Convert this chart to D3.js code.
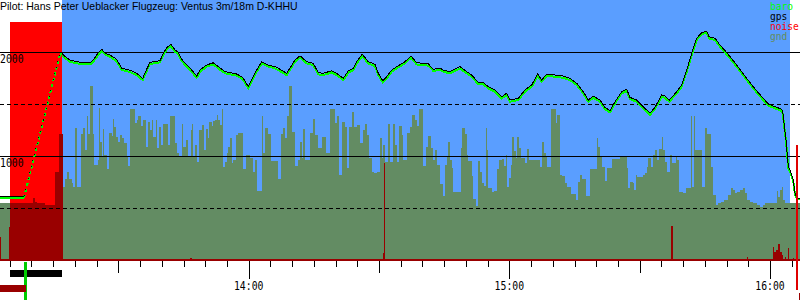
<!DOCTYPE html>
<html>
<head>
<meta charset="utf-8">
<script src="https://cdn.jsdelivr.net/npm/d3@7"></script>
<style>
    body { margin: 0; background: #fff; }
    svg { display: block; }
    .mono { font-family: "DejaVu Sans Mono", monospace; font-size: 9.8px; }
    .legend { font-family: "DejaVu Sans Mono", monospace; font-size: 9.6px; }
    .title { font-family: "Liberation Sans", Arial, sans-serif; font-size: 10.5px; }
</style>
</head>
<body>
<svg id="chart" width="800" height="300"></svg>
<script>
// Flight barogram - times in minutes after 13:00, altitudes in metres

const titleText = 'Pilot: Hans Peter Ueblacker Flugzeug: Ventus 3m/18m D-KHHU';

// flight trace (gps + baro share the same time stamps)
const trackMin = [
    2.75, 7.35, 8.27, 16.56, 17.02, 17.32, 18.86, 21.17, 23.47, 24.23,
    25.38, 26.16, 26.92, 28.07, 29.61, 30.77, 31.92, 33.07, 34.22, 35.6,
    36.52, 37.28, 39.58, 40.34, 41.12, 42.11, 43.03, 43.8, 44.58, 45.73,
    46.88, 48.03, 48.79, 50.33, 51.85, 53.0, 54.55, 55.7, 57.24, 58.62,
    59.91, 61.84, 62.99, 64.51, 66.06, 66.82, 68.75, 70.66, 71.81, 73.35,
    74.87, 76.02, 77.18, 79.11, 80.26, 81.78, 82.93, 84.08, 84.86, 86.15,
    87.53, 89.08, 89.84, 90.85, 91.77, 92.92, 94.44, 95.98, 97.36, 98.68,
    100.2, 101.35, 102.5, 104.04, 104.8, 106.34, 108.64, 110.18, 111.33, 112.86,
    114.01, 115.16, 116.7, 118.24, 119.39, 120.15, 122.06, 123.6, 125.15, 126.53,
    127.45, 128.6, 130.51, 132.42, 133.96, 135.51, 137.03, 138.18, 139.33, 140.87,
    142.02, 143.17, 144.32, 145.86, 147.02, 147.78, 149.32, 150.47, 152.38, 153.53,
    155.07, 155.83, 156.82, 158.53, 159.68, 160.83, 161.98, 163.13, 164.28, 165.44,
    165.96, 167.35, 168.5, 169.65, 170.8, 172.34, 173.49, 174.64, 176.16, 177.31,
    178.47, 179.62, 181.55, 182.7, 182.93, 183.23, 183.69, 184.22, 184.61, 185.37,
    185.76, 186.15, 186.91
];
const gpsAlt = [
    606, 606, 615, 1990, 1995, 1971, 1923, 1901, 1897, 1923,
    1993, 2026, 1988, 1971, 1930, 1843, 1834, 1817, 1795, 1747,
    1834, 1901, 1916, 1988, 2041, 2074, 2019, 1997, 1930, 1875,
    1827, 1769, 1827, 1875, 1897, 1859, 1811, 1801, 1788, 1757,
    1666, 1827, 1907, 1875, 1859, 1843, 1795, 1923, 1964, 1907,
    1891, 1801, 1795, 1820, 1795, 1747, 1820, 1843, 1907, 1978,
    1907, 1882, 1795, 1724, 1763, 1827, 1868, 1907, 1962, 1897,
    1891, 1885, 1834, 1845, 1827, 1811, 1859, 1811, 1779, 1705,
    1705, 1667, 1635, 1570, 1603, 1538, 1555, 1635, 1683, 1788,
    1731, 1788, 1779, 1769, 1747, 1699, 1618, 1538, 1577, 1538,
    1468, 1436, 1522, 1618, 1641, 1563, 1538, 1490, 1411, 1468,
    1587, 1577, 1538, 1618, 1683, 1827, 1987, 2132, 2186, 2202,
    2147, 2132, 2067, 2013, 1955, 1875, 1811, 1747, 1666, 1609,
    1555, 1500, 1468, 1449, 1426, 1314, 1154, 897, 865, 769,
    641, 593, 593
];
const baroAlt = [
    593, 593, 600, 1975, 1985, 1955, 1905, 1885, 1880, 1905,
    1975, 2010, 1975, 1955, 1912, 1825, 1818, 1800, 1778, 1730,
    1818, 1885, 1900, 1970, 2025, 2058, 2002, 1980, 1913, 1858,
    1810, 1752, 1810, 1860, 1882, 1842, 1795, 1785, 1772, 1740,
    1650, 1810, 1890, 1860, 1842, 1826, 1778, 1906, 1948, 1890,
    1875, 1785, 1778, 1803, 1778, 1730, 1803, 1826, 1890, 1962,
    1890, 1865, 1778, 1708, 1746, 1810, 1852, 1890, 1945, 1880,
    1875, 1868, 1818, 1828, 1810, 1795, 1842, 1795, 1762, 1690,
    1688, 1650, 1618, 1554, 1586, 1522, 1538, 1618, 1666, 1772,
    1714, 1771, 1762, 1752, 1730, 1682, 1602, 1522, 1560, 1522,
    1452, 1420, 1506, 1602, 1625, 1546, 1522, 1474, 1395, 1452,
    1570, 1560, 1522, 1602, 1666, 1810, 1970, 2115, 2170, 2186,
    2130, 2115, 2050, 1996, 1938, 1858, 1795, 1730, 1650, 1592,
    1538, 1484, 1452, 1432, 1412, 1300, 1140, 885, 852, 756,
    630, 590, 590
];
// engine climb part of the trace (drawn dotted)
const climbMin = [8.27, 16.56];

// terrain under the glider (step series)
const gndMin = [
    2.75, 5.05, 17.32, 17.71, 18.24, 18.7, 19.25, 19.62, 20.0, 20.41,
    21.33, 21.93, 22.32, 22.71, 23.08, 23.47, 24.09, 24.39, 25.38, 25.61,
    25.84, 26.16, 26.39, 26.69, 27.31, 27.84, 28.46, 28.69, 28.99, 29.38,
    29.98, 30.37, 30.77, 31.3, 31.92, 32.29, 32.68, 33.83, 34.22, 34.59,
    35.14, 35.6, 36.36, 36.89, 37.28, 37.67, 38.04, 38.66, 38.96, 39.35,
    39.74, 40.2, 41.49, 41.88, 43.03, 43.56, 43.96, 44.58, 44.95, 45.57,
    46.1, 46.65, 46.88, 47.25, 47.64, 48.17, 48.63, 49.18, 49.71, 50.17,
    50.56, 50.93, 51.48, 51.85, 52.24, 52.63, 53.0, 53.39, 53.79, 54.15,
    54.55, 54.94, 55.31, 55.7, 56.09, 56.46, 57.08, 57.61, 58.0, 58.62,
    59.38, 60.3, 60.92, 61.45, 61.98, 62.99, 63.36, 63.75, 64.51, 65.07,
    66.82, 67.37, 67.97, 68.36, 68.89, 69.35, 70.04, 70.66, 71.42, 71.81,
    72.2, 72.57, 72.96, 74.11, 74.87, 75.26, 76.02, 76.81, 77.8, 78.72,
    79.87, 80.4, 80.86, 81.41, 82.17, 82.56, 83.09, 83.71, 84.24, 84.86,
    85.62, 86.38, 86.77, 87.16, 87.76, 88.31, 88.84, 89.6, 90.23, 90.62,
    90.99, 91.38, 92.14, 92.53, 93.29, 93.68, 94.07, 94.6, 95.22, 95.59,
    96.37, 97.13, 97.66, 98.28, 98.68, 99.2, 100.2, 100.75, 101.35, 101.9,
    102.36, 102.89, 103.42, 104.04, 104.8, 105.19, 105.58, 105.95, 106.34, 106.73,
    107.1, 108.8, 109.17, 109.79, 110.18, 110.55, 111.33, 111.7, 112.33, 112.71,
    113.25, 113.64, 114.17, 114.56, 114.79, 115.16, 115.94, 116.47, 117.23, 117.69,
    118.24, 118.77, 119.16, 119.53, 119.92, 120.31, 120.68, 121.07, 121.45, 121.83,
    122.22, 122.61, 123.6, 124.13, 124.6, 127.06, 127.59, 127.98, 128.37, 128.74,
    129.52, 130.67, 131.04, 131.66, 132.05, 132.81, 133.2, 134.12, 135.35, 135.88,
    136.27, 136.66, 137.58, 138.57, 140.11, 140.48, 140.87, 141.4, 142.02, 142.41,
    143.56, 145.47, 147.02, 147.39, 147.78, 148.4, 148.7, 149.16, 149.46, 150.7,
    151.16, 151.62, 151.99, 152.54, 153.0, 153.53, 153.92, 154.52, 155.07, 155.44,
    155.83, 156.22, 156.98, 157.37, 158.3, 158.53, 159.13, 160.05, 160.67, 161.75,
    162.05, 162.51, 162.74, 164.28, 165.04, 165.57, 166.35, 166.95, 167.57, 168.1,
    168.66, 169.42, 170.4, 170.96, 171.56, 171.95, 172.48, 173.1, 173.72, 174.25,
    174.64, 175.4, 176.16, 176.94, 177.7, 178.33, 178.85, 181.55, 181.92, 182.31,
    182.7, 183.07, 183.46
];
const gndAlt = [
    548, 530, 705, 776, 849, 779, 737, 705, 1272, 705,
    1209, 1272, 1058, 1387, 1209, 1673, 1209, 913, 962, 1464,
    1137, 993, 1260, 1010, 875, 1218, 1192, 1356, 1282, 1186,
    1135, 1202, 1170, 1122, 993, 907, 1449, 1314, 1346, 1387,
    1288, 1346, 1089, 1330, 1250, 1346, 1186, 1346, 1074, 1282,
    1106, 1308, 1106, 1387, 1122, 1026, 993, 1308, 1089, 1154,
    993, 1250, 1305, 993, 1106, 945, 1250, 1298, 1058, 1260,
    1170, 1330, 1288, 1339, 1346, 1394, 1346, 1298, 1449, 897,
    945, 1026, 1089, 1176, 930, 962, 1202, 1224, 1218, 875,
    1010, 978, 849, 962, 666, 1385, 1026, 1266, 1211, 952,
    779, 1211, 1272, 1170, 1385, 1673, 1234, 907, 962, 1132,
    978, 1260, 962, 1218, 1353, 1202, 1074, 1186, 1026, 1449,
    1314, 1387, 817, 1330, 1282, 882, 1276, 1426, 1282, 1298,
    1128, 1250, 1308, 1202, 978, 849, 834, 849, 1170, 984,
    1106, 945, 1308, 945, 1308, 1106, 945, 1288, 1202, 962,
    1218, 1282, 1394, 1346, 1288, 1449, 907, 1089, 1192, 1074,
    962, 1058, 913, 731, 615, 913, 1000, 1132, 962, 882,
    657, 1074, 1272, 1209, 1010, 952, 808, 584, 519, 952,
    849, 737, 711, 1272, 1058, 689, 657, 666, 875, 962,
    968, 904, 1010, 705, 786, 913, 1186, 1048, 978, 1180,
    1074, 978, 930, 1064, 962, 897, 1137, 1026, 993, 897,
    1449, 1314, 1394, 817, 808, 743, 705, 635, 577, 753,
    817, 776, 615, 875, 1176, 1089, 987, 897, 760, 882,
    968, 993, 882, 689, 753, 737, 673, 817, 801, 817,
    834, 897, 978, 897, 1010, 1058, 962, 1064, 1186, 1058,
    945, 849, 1010, 930, 1000, 962, 657, 647, 689, 1385,
    705, 1385, 1058, 705, 1266, 1209, 897, 625, 529, 551,
    561, 577, 625, 689, 673, 641, 657, 673, 695, 641,
    577, 561, 551, 529, 512, 529, 551, 663, 609, 673,
    705, 577, 551
];

// engine noise level (0..1000, step series)
const noiseMin = [
    2.75, 2.98, 4.82, 5.05, 10.42, 10.81, 11.27, 13.11, 15.41, 16.4,
    17.32, 46.4, 46.9, 90.93, 91.15, 91.38, 157.21, 157.6, 174.64, 174.87,
    180.62, 180.92, 181.38, 181.92, 182.31, 182.7, 183.07, 183.46, 183.69, 184.08,
    184.38, 185.23, 185.46
];
const noiseLevel = [
    90, 0, 128, 218, 237, 224, 221, 212, 340, 483,
    0, 9, 0, 27, 374, 0, 131, 0, 12, 0,
    51, 32, 38, 60, 32, 19, 0, 10, 0, 46,
    0, 8, 0
];

// periods and events
const enginePeriod = [5.05, 17.02];
const flightPeriod = [17.02, 184.6];
const takeoffMark = [8.27, 8.97];
const landingMark = [186.05, 186.38];
const landingNoise = 443;
const groundMarks = [[2.75, 8.73], [186.6, 186.85]];

const solidGrid = [1000, 2000];
const dashedGrid = [500, 1500];
const altLabels = [1000, 2000];
const tickMinutes = d3.range(5, 186, 5);
const hourLabels = [[60, '14:00'], [120, '15:00'], [180, '16:00']];

const legendItems = [
    { name: 'baro', color: '#00ff00' },
    { name: 'gps', color: '#000000' },
    { name: 'noise', color: '#ff0000' },
    { name: 'gnd', color: '#648c5c' }
];

// ---- drawing ----
const width = 800, height = 300, plotBottom = 260;
const BLUE = '#5a9eff', GND = '#638c63', NOISE = '#990000';

const svg = d3.select('#chart');
const x = d3.scaleLinear().domain([2.75, 186.91]).range([0, width]);
const y = d3.scaleLinear().domain([0, 2500]).range([plotBottom, 0]);
const yNoise = d3.scaleLinear().domain([0, 1000]).range([plotBottom, 0]);
const px = v => Math.round(v) + 0.5;

const g = svg.append('g').attr('shape-rendering', 'crispEdges');

// backgrounds: free flight blue, engine run red
g.append('rect')
    .attr('x', x(flightPeriod[0])).attr('y', 0)
    .attr('width', x(flightPeriod[1]) - x(flightPeriod[0]))
    .attr('height', plotBottom)
    .attr('fill', BLUE);
g.append('rect')
    .attr('x', x(enginePeriod[0])).attr('y', 22)
    .attr('width', x(enginePeriod[1]) - x(enginePeriod[0]))
    .attr('height', plotBottom - 22)
    .attr('fill', '#ff0000');

// step areas
const stepArea = yS => d3.area()
    .curve(d3.curveStepAfter)
    .x(d => x(d[0]))
    .y0(plotBottom)
    .y1(d => yS(d[1]));

const tEnd = x.domain()[1];
const gndPts = d3.zip(gndMin, gndAlt);
gndPts.push([tEnd, gndAlt[gndAlt.length - 1]]);
g.append('path').datum(gndPts)
    .attr('d', stepArea(y))
    .attr('fill', GND);

const noisePts = d3.zip(noiseMin, noiseLevel);
noisePts.push([tEnd, 0]);
g.append('path').datum(noisePts)
    .attr('d', stepArea(yNoise))
    .attr('fill', NOISE);

// noise floor along the bottom
g.append('rect')
    .attr('x', 0).attr('y', plotBottom - 1)
    .attr('width', width).attr('height', 2)
    .attr('fill', NOISE);

// grid lines
g.selectAll('.grid-solid').data(solidGrid).join('line')
    .attr('x1', 0).attr('x2', width)
    .attr('y1', d => px(y(d))).attr('y2', d => px(y(d)))
    .attr('stroke', '#000').attr('stroke-width', 1);
g.selectAll('.grid-dash').data(dashedGrid).join('line')
    .attr('x1', 0).attr('x2', width)
    .attr('y1', d => px(y(d))).attr('y2', d => px(y(d)))
    .attr('stroke', '#000').attr('stroke-width', 1)
    .attr('stroke-dasharray', '4,3');

// altitude traces
const track = d3.zip(trackMin, gpsAlt, baroAlt);
const beforeClimb = track.filter(d => d[0] <= climbMin[0]);
const climb = track.filter(d => d[0] >= climbMin[0] && d[0] <= climbMin[1]);
const afterClimb = track.filter(d => d[0] >= climbMin[1]);

const baroLine = d3.line().x(d => x(d[0])).y(d => y(d[2]));
const gpsLine = d3.line().x(d => x(d[0])).y(d => y(d[1]));

[beforeClimb, afterClimb].forEach(seg => {
    g.append('path').datum(seg).attr('d', baroLine)
        .attr('fill', 'none').attr('stroke', '#00ff00').attr('stroke-width', 2);
});
g.append('path').datum(climb).attr('d', baroLine)
    .attr('fill', 'none').attr('stroke', '#00ee00').attr('stroke-width', 2)
    .attr('stroke-dasharray', '3,3');
[beforeClimb, afterClimb].forEach(seg => {
    g.append('path').datum(seg).attr('d', gpsLine)
        .attr('fill', 'none').attr('stroke', '#000').attr('stroke-width', 1);
});
g.append('path').datum(climb).attr('d', gpsLine)
    .attr('fill', 'none').attr('stroke', '#000').attr('stroke-width', 1)
    .attr('stroke-dasharray', '1,5');

// event markers below the axis
g.append('rect')
    .attr('x', x(enginePeriod[0])).attr('y', 270)
    .attr('width', x(enginePeriod[1]) - x(enginePeriod[0])).attr('height', 7)
    .attr('fill', '#000');
g.append('rect')
    .attr('x', x(takeoffMark[0])).attr('y', 262)
    .attr('width', x(takeoffMark[1]) - x(takeoffMark[0])).attr('height', 38)
    .attr('fill', '#00cc00');
g.selectAll('.ground-mark').data(groundMarks).join('rect')
    .attr('x', d => x(d[0])).attr('y', (d, i) => i === 0 ? 285 : 293)
    .attr('width', d => x(d[1]) - x(d[0])).attr('height', 7)
    .attr('fill', NOISE);
g.append('rect')
    .attr('x', x(landingMark[0])).attr('y', yNoise(landingNoise))
    .attr('width', x(landingMark[1]) - x(landingMark[0]))
    .attr('height', 290 - yNoise(landingNoise))
    .attr('fill', '#e00000');

// time axis ticks
g.selectAll('.tick').data(tickMinutes).join('line')
    .attr('x1', d => px(x(d))).attr('x2', d => px(x(d)))
    .attr('y1', plotBottom + 1)
    .attr('y2', d => d % 60 === 0 ? 279 : d % 30 === 0 ? 273 : 267)
    .attr('stroke', '#000');

// texts (tall bitmap-like mono font)
const monoText = (sel, tx, ty, sy) => sel
    .attr('transform', `translate(${tx},${ty}) scale(1,${sy})`);

hourLabels.forEach(([m, label]) => {
    svg.append('text').attr('class', 'mono').call(monoText, x(m), 290, 1.18)
        .attr('text-anchor', 'middle').text(label);
});
altLabels.forEach(v => {
    svg.append('text').attr('class', 'mono').call(monoText, 0, Math.round(y(v)) + 11, 1.18).text(v);
});
legendItems.forEach((d, i) => {
    svg.append('text').attr('class', 'legend').call(monoText, 770, 10 + i * 10, 1.05)
        .attr('fill', d.color).text(d.name);
});

svg.append('text')
    .attr('class', 'title')
    .attr('x', 0).attr('y', 10)
    .text(titleText);
</script>
</body>
</html>
